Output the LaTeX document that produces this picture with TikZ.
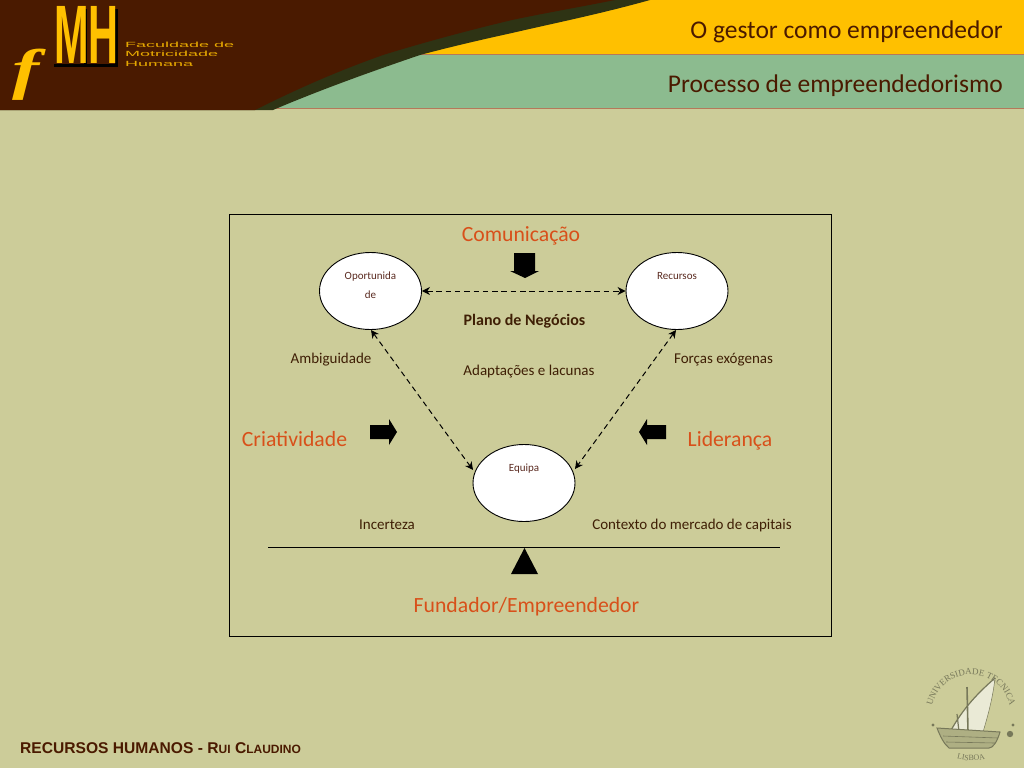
\documentclass[tikz,border=0pt]{standalone}
\usepackage{fontspec}
\setmainfont{Carlito}
\newfontfamily\heros{Liberation Sans}
\newfontfamily\timesf{Liberation Serif}
\usetikzlibrary{arrows.meta,shapes.geometric,decorations.text}
\definecolor{bgc}{HTML}{CCCC99}
\definecolor{brownc}{HTML}{4A1A00}
\definecolor{goldc}{HTML}{FFC000}
\definecolor{greenc}{HTML}{8CBB8F}
\definecolor{linec}{HTML}{B5785A}
\definecolor{darkedge}{HTML}{2E3314}
\definecolor{orangec}{HTML}{D8501A}
\definecolor{textc}{HTML}{3F1F05}
\definecolor{smallc}{HTML}{5A2A20}
\definecolor{sealc}{HTML}{77785A}
\tikzset{
 ell/.style={ellipse,draw=black,fill=white,line width=.9pt,minimum width=102pt,minimum height=77pt,inner sep=0pt},
 dlink/.style={dash pattern=on 5.5pt off 3.8pt,line width=1pt,{Stealth[length=8pt,width=8pt]}-{Stealth[length=8pt,width=8pt]}},
 orangelab/.style={text=orangec,font=\fontsize{21.7}{24}\selectfont,inner sep=0pt},
 darklab/.style={text=textc,font=\fontsize{15}{17}\selectfont,inner sep=0pt},
 tiny/.style={text=smallc,font=\fontsize{11}{13}\selectfont,inner sep=0pt},
 blockarrow/.style={fill=black,draw=none},
 logo/.style={inner sep=0pt,anchor=west},
 seal/.style={draw=sealc,line width=1pt}
}
\newcommand{\mhtext}{\scalebox{.68}[1.36]{\textbf{MH}}}
\newcommand{\ftext}{\scalebox{1.45}[1]{\timesf\itshape\bfseries f}}
\begin{document}
\begin{tikzpicture}[x=1pt,y=-1pt]
\useasboundingbox (0,0) rectangle (1024,768);
\fill[bgc] (0,0) rectangle (1024,768);
% header bands
\fill[goldc] (380,0) rectangle (1024,55);
\fill[greenc] (240,55) rectangle (1024,108);
\draw[linec,line width=1pt] (380,55) -- (1024,55);
\draw[linec,line width=1.2pt] (260,108.5) -- (1024,108.5);
% dark edge and brown swoosh
\fill[darkedge] (0,0) -- (650,0) .. controls (600,14) and (555,23) .. (512,33) .. controls (480,40) and (450,47) .. (420,55) .. controls (370,72) and (320,90) .. (273,110) -- (0,110) -- cycle;
\fill[brownc] (0,0) -- (615,0) .. controls (580,7) and (545,13) .. (512,20) .. controls (470,30) and (425,42) .. (383,55) .. controls (335,72) and (295,90) .. (255,110) -- (0,110) -- cycle;
% logo
\fill[black] (84,9) rectangle (87,66);
\fill[black] (115,9) rectangle (118,66);
\fill[black] (54,64) rectangle (118,67);
\node[logo,text=goldc,font=\heros\fontsize{61}{61}\selectfont] (mh) at (54,35) {\mhtext};
\node[logo,text=goldc,font=\fontsize{56}{56}\selectfont] (ff) at (12,75) {\ftext};
\node[logo,text=goldc!85!brownc,font=\heros\fontsize{7.5}{9}\selectfont] (fac) at (125,45) {\scalebox{2.4}[1]{Faculdade de}};
\node[logo,text=goldc!85!brownc,font=\heros\fontsize{7.5}{9}\selectfont] (mot) at (125,54) {\scalebox{2.4}[1]{Motricidade}};
\node[logo,text=goldc!85!brownc,font=\heros\fontsize{7.5}{9}\selectfont] (hum) at (125,63.5) {\scalebox{2.4}[1]{Humana}};
% titles
\node[anchor=east,text=brownc,font=\fontsize{25.5}{28}\selectfont,inner sep=0pt] (t1) at (1003,32) {O gestor como empreendedor};
\node[anchor=east,text=brownc,font=\fontsize{25.5}{28}\selectfont,inner sep=0pt] (t2) at (1003,86) {Processo de empreendedorismo};
% frame
\draw[black,line width=.9pt] (229.5,214.5) rectangle (831.5,636.5);
% ellipses
\node[ell] (op) at (370.5,291) {};
\node[ell] (re) at (677,291) {};
\node[ell] (eq) at (524,483) {};
\node[tiny] (opt1) at (370.5,276.5) {Oportunida};
\node[tiny] (opt2) at (370.5,294.5) {de};
\node[tiny] (ret) at (677,276.5) {Recursos};
\node[tiny] (eqt) at (524,468.5) {Equipa};
% links
\draw[dlink] (op.east) -- (re.west);
\draw[dlink] (371,330) -- (473,470);
\draw[dlink] (676,330) -- (575,469);
% labels
\node[orangelab] (com) at (521,236) {Comunicação};
\node[orangelab] (cri) at (294.5,439.5) {Criatividade};
\node[orangelab] (lid) at (730,441) {Liderança};
\node[orangelab] (fun) at (526.5,607) {Fundador/Empreendedor};
\node[darklab,font=\fontsize{16}{18}\selectfont\bfseries] (pla) at (524.5,321) {Plano de Negócios};
\node[darklab] (ada) at (529,372) {Adaptações e lacunas};
\node[darklab] (amb) at (331,359.5) {Ambiguidade};
\node[darklab] (for) at (723.5,359.5) {Forças exógenas};
\node[darklab] (inc) at (387,525) {Incerteza};
\node[darklab] (con) at (692,525.5) {Contexto do mercado de capitais};
% block arrows
\fill[blockarrow] (514,253) -- (535,253) -- (535,271) -- (539,271) -- (525,278) -- (510,271) -- (514,271) -- cycle;
\fill[blockarrow] (370,425) -- (389,425) -- (389,419) -- (397,432) -- (389,445) -- (389,439) -- (370,439) -- cycle;
\fill[blockarrow] (666,425) -- (647,425) -- (647,419) -- (639,432) -- (647,445) -- (647,439) -- (666,439) -- cycle;
\fill[blockarrow] (511,574) -- (524.5,548) -- (538,574) -- cycle;
% base line
\draw[black,line width=.8pt] (268,547.5) -- (780,547.5);
% footer
\node[anchor=west,text=brownc,inner sep=0pt,font=\heros\bfseries\fontsize{15.6}{17}\selectfont] (foot) at (20,748) {RECURSOS HUMANOS - R{\fontsize{12}{14}\selectfont UI} C{\fontsize{12}{14}\selectfont LAUDINO}};
% seal
\begin{scope}[shift={(971,716)}]
% sails
\fill[white,opacity=.6] (24,-38) .. controls (8,-24) and (-8,-8) .. (-21,16) -- (12,16) .. controls (18,-4) and (22,-20) .. (24,-38) -- cycle;
\draw[seal,line width=1.2pt] (24,-38) .. controls (8,-24) and (-8,-8) .. (-21,16);
\draw[seal,line width=.5pt] (24,-38) .. controls (22,-20) and (18,-4) .. (12,16);
\draw[seal,line width=1.6pt] (-4,-29) -- (-3,16);
\draw[seal,line width=1.2pt] (-14,-2) -- (-12,16);
% hull
\fill[sealc!35!bgc] (-34,12) -- (29,16) .. controls (26,26) and (22,32) .. (18,32) -- (-22,32) .. controls (-27,28) and (-31,20) .. (-34,12) -- cycle;
\draw[seal] (-34,12) -- (29,16) .. controls (26,26) and (22,32) .. (18,32) -- (-22,32) .. controls (-27,28) and (-31,20) .. (-34,12) -- cycle;
\draw[seal,line width=.6pt] (-28,20) -- (27,22);
\draw[seal,line width=.6pt] (-25,26) -- (24,27);
\fill[sealc] (-38,9) circle (1.6);
\fill[sealc] (42,9) circle (1.6);
\fill[sealc] (39,18) circle (3.2);
\path[decorate,decoration={text along path,text align=center,text={|\timesf\fontsize{9}{9}\selectfont\color{sealc}|UNIVERSIDADE TECNICA}}] (-40,2) .. controls (-40,-56) and (40,-56) .. (40,2);
\path[decorate,decoration={text along path,text align=center,text={|\timesf\fontsize{8}{8}\selectfont\color{sealc}|LISBOA}}] (-25,38) .. controls (-10,47) and (10,47) .. (25,38);
\end{scope}
\end{tikzpicture}
\end{document}
